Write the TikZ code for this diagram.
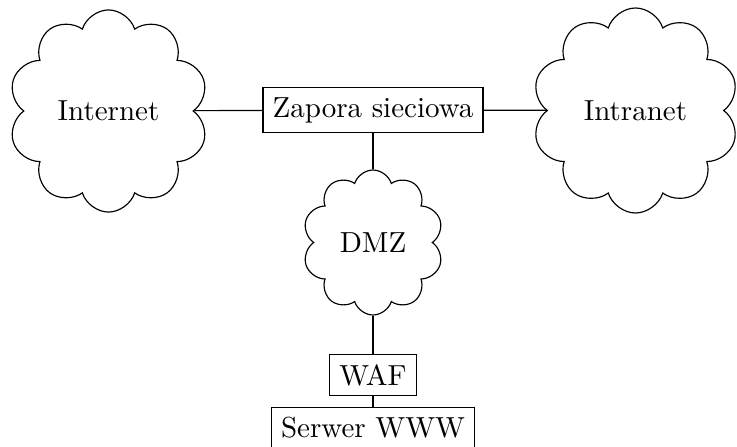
\documentclass[tikz,border=0pt]{standalone}
\usetikzlibrary{shapes.symbols}
\begin{document}
\begin{tikzpicture}[x=0.34483pt, y=-0.34483pt,
  netcloud/.style={draw, cloud, cloud puffs=10, cloud puff arc=145, cloud ignores aspect, inner sep=0pt},
  devbox/.style={draw, rectangle}]
  \useasboundingbox (0,0) rectangle (737,446);
  % networks
  \node[netcloud, minimum width=69pt, minimum height=69.7pt] (internet) at (108.5,111) {Internet};
  \node[netcloud, minimum width=71.4pt, minimum height=70.7pt] (intranet) at (635.5,110.5) {Intranet};
  \node[devbox] (fw) at (373,110) {Zapora sieciowa};
  \node[netcloud, minimum width=48.6pt, minimum height=50pt] (dmz) at (373,242.5) {DMZ};
  % web server chain
  \node[devbox] (waf) at (373,375) {WAF};
  \node[devbox] (www) at (373,427.5) {Serwer WWW};
  % links
  \draw (internet) -- (fw);
  \draw (fw) -- (intranet);
  \draw (fw) -- (dmz);
  \draw (dmz) -- (waf);
  \draw (waf) -- (www);
\end{tikzpicture}
\end{document}
